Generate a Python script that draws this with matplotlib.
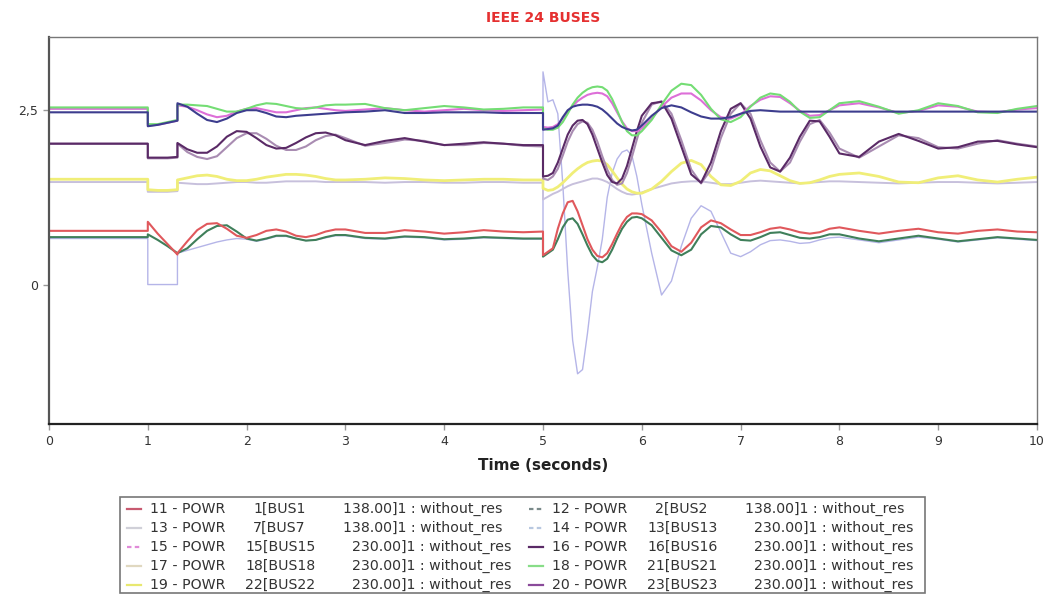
import matplotlib
matplotlib.use("Agg")
import matplotlib.pyplot as plt
from matplotlib.lines import Line2D
from matplotlib.patches import Rectangle

# ---------------- data ----------------
T = [0.0, 1.0,
     1.0, 1.1, 1.2, 1.3,
     1.3, 1.4, 1.5, 1.6, 1.7, 1.8, 1.9, 2.0, 2.1, 2.2, 2.3, 2.4, 2.5, 2.6, 2.7, 2.8, 2.9, 3.0,
     3.2, 3.4, 3.6, 3.8, 4.0, 4.2, 4.4, 4.6, 4.8, 5.0,
     5.0, 5.05, 5.1, 5.15, 5.2, 5.25, 5.3, 5.35, 5.4, 5.45, 5.5, 5.55, 5.6, 5.65, 5.7, 5.75, 5.8, 5.85, 5.9, 5.95, 6.0,
     6.1, 6.2, 6.3, 6.4, 6.5, 6.6, 6.7, 6.8, 6.9, 7.0, 7.1, 7.2, 7.3, 7.4, 7.5, 7.6, 7.7, 7.8, 7.9, 8.0,
     8.2, 8.4, 8.6, 8.8, 9.0, 9.2, 9.4, 9.6, 9.8, 10.0]

p11_bus1 = [0.77, 0.77,
            0.90, 0.73, 0.58, 0.43,
            0.45, 0.62, 0.78, 0.87, 0.88, 0.80, 0.70, 0.67, 0.71, 0.77, 0.79, 0.76, 0.70, 0.68, 0.71, 0.76, 0.79, 0.79,
            0.74, 0.74, 0.78, 0.76, 0.73, 0.75, 0.78, 0.76, 0.75, 0.76,
            0.42, 0.47, 0.52, 0.80, 1.02, 1.18, 1.20, 1.05, 0.85, 0.65, 0.50, 0.41, 0.39, 0.45, 0.58, 0.73, 0.87, 0.97, 1.02, 1.02, 1.01,
            0.92, 0.75, 0.55, 0.47, 0.60, 0.82, 0.92, 0.88, 0.79, 0.71, 0.71, 0.75, 0.80, 0.82, 0.79, 0.75, 0.73, 0.75, 0.80, 0.82,
            0.77, 0.73, 0.77, 0.80, 0.75, 0.73, 0.77, 0.79, 0.76, 0.75]

p12_bus2 = [0.68, 0.68,
            0.72, 0.64, 0.55, 0.45,
            0.45, 0.52, 0.65, 0.77, 0.84, 0.85, 0.76, 0.66, 0.63, 0.66, 0.70, 0.70, 0.66, 0.63, 0.64, 0.68, 0.71, 0.71,
            0.67, 0.66, 0.69, 0.68, 0.65, 0.66, 0.68, 0.67, 0.66, 0.66,
            0.40, 0.45, 0.50, 0.65, 0.82, 0.93, 0.95, 0.87, 0.72, 0.56, 0.42, 0.34, 0.32, 0.37, 0.50, 0.66, 0.80, 0.90, 0.96, 0.97, 0.95,
            0.85, 0.67, 0.49, 0.42, 0.50, 0.72, 0.84, 0.82, 0.72, 0.64, 0.63, 0.68, 0.74, 0.75, 0.71, 0.67, 0.66, 0.68, 0.72, 0.72,
            0.66, 0.62, 0.66, 0.70, 0.66, 0.62, 0.65, 0.68, 0.66, 0.64]

p13_bus7 = [1.47, 1.47,
            1.33, 1.33, 1.33, 1.34,
            1.46, 1.45, 1.44, 1.44, 1.45, 1.46, 1.47, 1.47, 1.46, 1.46, 1.47, 1.48, 1.48, 1.48, 1.48, 1.47, 1.47, 1.47,
            1.47, 1.46, 1.47, 1.47, 1.46, 1.46, 1.47, 1.47, 1.46, 1.46,
            1.22, 1.26, 1.30, 1.33, 1.37, 1.41, 1.44, 1.46, 1.48, 1.50, 1.52, 1.52, 1.50, 1.47, 1.42, 1.37, 1.33, 1.30, 1.29, 1.30, 1.32,
            1.37, 1.41, 1.45, 1.47, 1.48, 1.48, 1.46, 1.44, 1.44, 1.46, 1.48, 1.49, 1.48, 1.47, 1.46, 1.45, 1.46, 1.47, 1.48, 1.48,
            1.47, 1.46, 1.45, 1.46, 1.47, 1.47, 1.46, 1.45, 1.46, 1.47]

p14_bus13 = [0.66, 0.66,
             0.0, 0.0, 0.0, 0.0,
             0.45, 0.49, 0.53, 0.57, 0.61, 0.64, 0.66, 0.65, 0.62, 0.65, 0.69, 0.69, 0.66, 0.63, 0.64, 0.67, 0.70, 0.70,
             0.66, 0.65, 0.68, 0.67, 0.64, 0.65, 0.67, 0.66, 0.65, 0.65,
             3.05, 2.62, 2.65, 2.45, 1.45, 0.20, -0.80, -1.28, -1.22, -0.70, -0.10, 0.25, 0.65, 1.25, 1.60, 1.80, 1.90, 1.93, 1.85, 1.55, 1.15,
             0.45, -0.15, 0.05, 0.55, 0.95, 1.13, 1.05, 0.75, 0.45, 0.40, 0.47, 0.57, 0.63, 0.64, 0.62, 0.59, 0.60, 0.64, 0.67, 0.68,
             0.64, 0.60, 0.64, 0.68, 0.65, 0.61, 0.64, 0.67, 0.65, 0.63]

p15_bus15 = [2.52, 2.52,
             2.28, 2.29, 2.32, 2.35,
             2.57, 2.55, 2.50, 2.44, 2.40, 2.42, 2.48, 2.52, 2.53, 2.50, 2.47, 2.47, 2.50, 2.53, 2.54, 2.52, 2.50, 2.49,
             2.51, 2.53, 2.50, 2.48, 2.50, 2.52, 2.50, 2.49, 2.50, 2.51,
             2.26, 2.25, 2.26, 2.30, 2.38, 2.48, 2.56, 2.63, 2.68, 2.72, 2.74, 2.75, 2.74, 2.70, 2.60, 2.47, 2.34, 2.24, 2.20, 2.20, 2.24,
             2.38, 2.55, 2.68, 2.74, 2.74, 2.64, 2.50, 2.40, 2.38, 2.44, 2.56, 2.65, 2.70, 2.69, 2.60, 2.49, 2.42, 2.43, 2.50, 2.57,
             2.60, 2.54, 2.46, 2.49, 2.57, 2.55, 2.48, 2.47, 2.51, 2.53]

p16_bus16 = [2.02, 2.02,
             1.82, 1.82, 1.82, 1.83,
             2.03, 1.94, 1.89, 1.89, 1.98, 2.12, 2.20, 2.19, 2.10, 2.00, 1.95, 1.96, 2.03, 2.11, 2.17, 2.18, 2.14, 2.07,
             2.00, 2.06, 2.10, 2.05, 2.00, 2.02, 2.04, 2.02, 2.00, 2.00,
             1.55, 1.56, 1.60, 1.75, 1.95, 2.15, 2.28, 2.35, 2.36, 2.30, 2.15, 1.95, 1.75, 1.57, 1.47, 1.45, 1.52, 1.70, 1.95, 2.20, 2.42,
             2.60, 2.62, 2.38, 1.98, 1.58, 1.46, 1.75, 2.20, 2.52, 2.60, 2.38, 1.98, 1.68, 1.62, 1.82, 2.12, 2.35, 2.34, 2.12, 1.88,
             1.83, 2.05, 2.16, 2.06, 1.95, 1.97, 2.05, 2.06, 2.01, 1.97]

p17_bus18 = [2.02, 2.02,
             1.81, 1.81, 1.81, 1.82,
             2.02, 1.90, 1.83, 1.80, 1.84, 1.97, 2.10, 2.17, 2.17, 2.09, 1.99, 1.93, 1.93, 1.98, 2.07, 2.13, 2.15, 2.10,
             1.99, 2.03, 2.08, 2.06, 2.00, 2.00, 2.03, 2.02, 1.99, 1.98,
             1.52, 1.50, 1.55, 1.66, 1.85, 2.05, 2.20, 2.30, 2.34, 2.32, 2.22, 2.05, 1.84, 1.65, 1.50, 1.43, 1.45, 1.60, 1.83, 2.08, 2.32,
             2.58, 2.63, 2.45, 2.07, 1.65, 1.45, 1.65, 2.10, 2.45, 2.60, 2.45, 2.07, 1.75, 1.62, 1.75, 2.05, 2.30, 2.36, 2.18, 1.95,
             1.82, 1.98, 2.14, 2.10, 1.97, 1.95, 2.02, 2.07, 2.02, 1.98]

p18_bus21 = [2.54, 2.54,
             2.30, 2.30, 2.33, 2.36,
             2.58, 2.58, 2.57, 2.56, 2.52, 2.48, 2.48, 2.52, 2.57, 2.60, 2.59, 2.56, 2.53, 2.52, 2.54, 2.57, 2.58, 2.58,
             2.59, 2.53, 2.50, 2.53, 2.56, 2.54, 2.51, 2.52, 2.54, 2.54,
             2.24, 2.22, 2.22, 2.25, 2.33, 2.45, 2.58, 2.68, 2.75, 2.80, 2.83, 2.84, 2.83, 2.78, 2.66, 2.50, 2.33, 2.20, 2.14, 2.14, 2.20,
             2.36, 2.58, 2.78, 2.88, 2.86, 2.72, 2.52, 2.37, 2.33, 2.40, 2.55, 2.68, 2.74, 2.72, 2.62, 2.48, 2.39, 2.40, 2.50, 2.60,
             2.63, 2.55, 2.45, 2.50, 2.60, 2.56, 2.47, 2.46, 2.52, 2.56]

p19_bus22 = [1.51, 1.51,
             1.36, 1.35, 1.35, 1.36,
             1.50, 1.53, 1.56, 1.57, 1.55, 1.51, 1.49, 1.49, 1.51, 1.54, 1.56, 1.58, 1.58, 1.57, 1.55, 1.52, 1.50, 1.50,
             1.51, 1.53, 1.52, 1.50, 1.49, 1.50, 1.51, 1.51, 1.50, 1.50,
             1.38, 1.35, 1.36, 1.40, 1.46, 1.53, 1.60, 1.66, 1.71, 1.75, 1.77, 1.78, 1.77, 1.72, 1.63, 1.53, 1.44, 1.37, 1.33, 1.31, 1.31,
             1.37, 1.48, 1.62, 1.74, 1.78, 1.72, 1.55, 1.43, 1.42, 1.48, 1.60, 1.65, 1.63, 1.56, 1.49, 1.45, 1.46, 1.50, 1.55, 1.58,
             1.60, 1.55, 1.47, 1.46, 1.53, 1.56, 1.50, 1.47, 1.51, 1.54]

p20_bus23 = [2.47, 2.47,
             2.27, 2.29, 2.32, 2.35,
             2.60, 2.55, 2.45, 2.36, 2.33, 2.38, 2.46, 2.50, 2.50, 2.46, 2.41, 2.40, 2.42, 2.43, 2.44, 2.45, 2.46, 2.47,
             2.48, 2.50, 2.46, 2.46, 2.47, 2.47, 2.47, 2.46, 2.46, 2.46,
             2.22, 2.23, 2.24, 2.28, 2.40, 2.50, 2.55, 2.57, 2.58, 2.58, 2.57, 2.55, 2.51, 2.45, 2.38, 2.31, 2.26, 2.23, 2.21, 2.22, 2.28,
             2.42, 2.53, 2.57, 2.54, 2.47, 2.41, 2.38, 2.38, 2.40, 2.45, 2.49, 2.50, 2.49, 2.48, 2.48, 2.48, 2.48, 2.48, 2.48, 2.48,
             2.48, 2.48, 2.48, 2.48, 2.48, 2.48, 2.48, 2.48, 2.48, 2.48]

legend_ids = ["11", "12", "13", "14", "15", "16", "17", "18", "19", "20"]
legend_bus = ["1[BUS1", "2[BUS2", "7[BUS7", "13[BUS13", "15[BUS15",
              "16[BUS16", "18[BUS18", "21[BUS21", "22[BUS22", "23[BUS23"]
legend_kv = ["138.00", "138.00", "138.00", "230.00", "230.00",
             "230.00", "230.00", "230.00", "230.00", "230.00"]
series = [p11_bus1, p12_bus2, p13_bus7, p14_bus13, p15_bus15,
          p16_bus16, p17_bus18, p18_bus21, p19_bus22, p20_bus23]

colors = ["#e0585c", "#3f7f5a", "#c7c0dc", "#b5b5e8", "#dd6fd8",
          "#5a2a66", "#a98cb2", "#74dd74", "#f0ee78", "#3d3d8e"]
legend_colors = ["#c85a70", "#7a8a8a", "#d0d0d8", "#b8c8e0", "#e08ad8",
                 "#5a2a66", "#e0d8c0", "#88dd88", "#e8e870", "#8a4a9a"]
legend_ls = ["-", (0, (2, 1.5)), "-", (0, (2, 1.5)), (0, (2, 1.5)),
             "-", "-", "-", "-", "-"]
widths = [1.5, 1.5, 1.4, 1.0, 1.5, 1.5, 1.5, 1.5, 2.0, 1.5]
draw_order = [3, 2, 8, 6, 5, 4, 7, 9, 1, 0]

# ---------------- figure ----------------
W, H = 1052, 606
fig = plt.figure(figsize=(W / 100, H / 100), dpi=100)
fig.patch.set_facecolor("white")
ax = fig.add_axes([49 / W, 1 - 424 / H, (1037 - 49) / W, (424 - 37) / H])

for i in draw_order:
    ax.plot(T, series[i], color=colors[i], lw=widths[i], zorder=2 + draw_order.index(i) * 0.01)

ax.set_xlim(0, 10)
ax.set_ylim(-2.0, 3.55)
ax.set_xticks(range(0, 11))
ax.set_yticks([0, 2.5])
ax.set_yticklabels(["0", "2,5"])
ax.tick_params(axis="both", length=4, width=1, color="#999999", labelsize=9,
               labelcolor="#333333", pad=4)

for side, col, lw in [("left", "#555555", 1.6), ("bottom", "#222222", 1.6),
                      ("top", "#777777", 1.0), ("right", "#777777", 1.0)]:
    ax.spines[side].set_color(col)
    ax.spines[side].set_linewidth(lw)

fig.text(543 / W, 1 - 18 / H, "IEEE 24 BUSES", color="#e53030", fontsize=10,
         fontweight="bold", ha="center", va="center")
fig.text(543 / W, 1 - 465 / H, "Time (seconds)", color="#222222", fontsize=11,
         fontweight="bold", ha="center", va="center")

# ---------------- legend (drawn manually) ----------------
box = Rectangle((120 / W, 1 - 593 / H), (925 - 120) / W, (593 - 497) / H,
                transform=fig.transFigure, facecolor="white", edgecolor="#777777",
                lw=1.2, zorder=1)
fig.patches.append(box)
row_y = [509, 528, 547, 566, 585]
for k in range(10):
    col = k % 2
    row = k // 2
    xoff = col * 402
    y = 1 - row_y[row] / H
    fig.lines.append(Line2D([(127 + xoff) / W, (141 + xoff) / W], [y, y],
                            transform=fig.transFigure, color=legend_colors[k],
                            ls=legend_ls[k], lw=1.6))
    fs = 10.2
    tc = "#333333"
    fig.text((150 + xoff) / W, y, legend_ids[k] + " - POWR", fontsize=fs,
             color=tc, ha="left", va="center")
    bx = 253 if legend_bus[k].index("[") == 1 else 245
    fig.text((bx + xoff) / W, y, legend_bus[k], fontsize=fs, color=tc,
             ha="left", va="center")
    vx = 343 if legend_kv[k] == "138.00" else 352
    fig.text((vx + xoff) / W, y, legend_kv[k] + "]1 : without_res", fontsize=fs,
             color=tc, ha="left", va="center")

fig.savefig("out.png", dpi=100, facecolor="white")
